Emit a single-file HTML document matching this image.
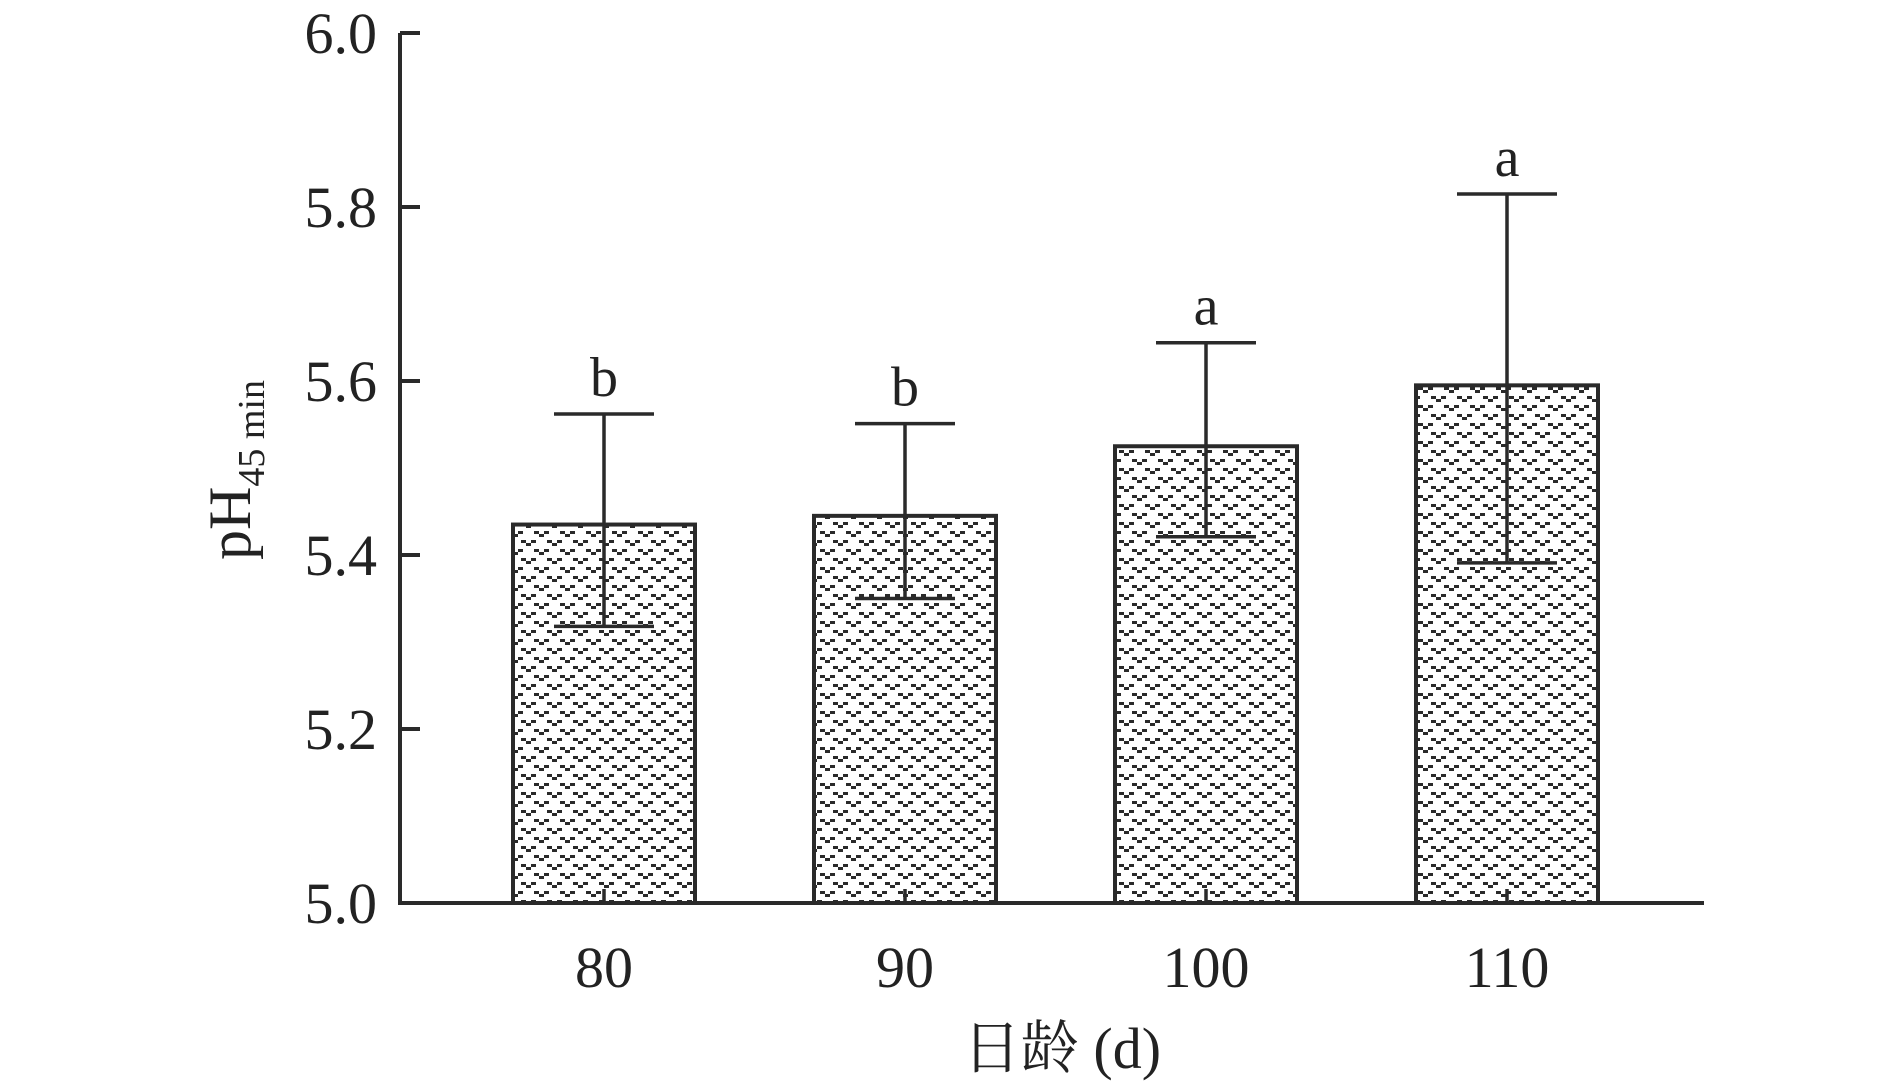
<!DOCTYPE html>
<html><head><meta charset="utf-8"><style>
body{margin:0;background:#fff}
svg text{font-family:"Liberation Serif","Noto Serif CJK SC",serif;fill:#222}
</style></head><body>
<svg width="1890" height="1087" xmlns="http://www.w3.org/2000/svg">
<defs>
<pattern id="vp" width="26" height="18" patternUnits="userSpaceOnUse">
<g fill="#2a2a2a">
<rect x="1" y="0" width="5" height="3"/><rect x="6" y="3" width="5" height="3"/><rect x="11" y="0" width="5" height="3"/>
<rect x="14" y="9" width="5" height="3"/><rect x="19" y="12" width="5" height="3"/><rect x="24" y="9" width="5" height="3"/>
<rect x="-12" y="9" width="5" height="3"/><rect x="-7" y="12" width="5" height="3"/><rect x="-2" y="9" width="5" height="3"/>
</g></pattern>
</defs>
<g id="plot"></g>
</svg>
<script>
const categories=["80","90","100","110"];
const means=[5.435,5.445,5.525,5.595];
const errUpper=[5.562,5.551,5.644,5.815];
const errLower=[5.318,5.350,5.421,5.391];
const letters=["b","b","a","a"];
const yTicks=[5.0,5.2,5.4,5.6,5.8,6.0];
const yTickLabels=["5.0","5.2","5.4","5.6","5.8","6.0"];

const NS="http://www.w3.org/2000/svg";
const g=document.getElementById('plot');
const x0=400,x1=1704,yTop=33,yBot=903,vMin=5.0,vMax=6.0;
const y=v=>yBot-(v-vMin)/(vMax-vMin)*(yBot-yTop);
const band=301;
const xc=i=>604+band*i;
const bw=182;
function el(t,a,txt){const e=document.createElementNS(NS,t);for(const k in a)e.setAttribute(k,a[k]);if(txt!=null)e.textContent=txt;g.appendChild(e);return e;}
means.forEach((m,i)=>{
 const r=el('rect',{x:xc(i)-bw/2,y:y(m),width:bw,height:yBot-y(m),fill:'url(#vp)',stroke:'#2a2a2a','stroke-width':4});
 
 
 const cx=xc(i);
 const e=el('path',{d:`M${cx},${y(errLower[i])}V${y(errUpper[i])}M${cx-50},${y(errUpper[i])}H${cx+50}M${cx-50},${y(errLower[i])}H${cx+50}M${cx},${yBot}V${yBot-14}`,stroke:'#2a2a2a','stroke-width':3.5,fill:'none'});
 
 
 const l=el('text',{x:cx,y:y(errUpper[i])-18,'text-anchor':'middle','font-size':56},letters[i]);
 
 
 const t=el('text',{x:cx,y:yBot+84,'text-anchor':'middle','font-size':58},categories[i]);
 
 
});
const ax=el('path',{d:`M${x0},${yTop}V${yBot}H${x1}`,stroke:'#2a2a2a','stroke-width':4,fill:'none'});


yTicks.forEach((v,i)=>{
 const tk=el('path',{d:`M${x0},${y(v)}H${x0+20}`,stroke:'#2a2a2a','stroke-width':4});
 
 
 const t=el('text',{x:377,y:y(v)+20,'text-anchor':'end','font-size':58},yTickLabels[i]);
 
 
});
const yt=el('text',{transform:'translate(250,470) rotate(-90)','text-anchor':'middle','font-size':60});


yt.innerHTML='pH<tspan font-size="38" dy="14">45 min</tspan>';
const xt=el('text',{x:1062,y:1068,'text-anchor':'middle','font-size':58},'日龄 (d)');


</script>
</body></html>
